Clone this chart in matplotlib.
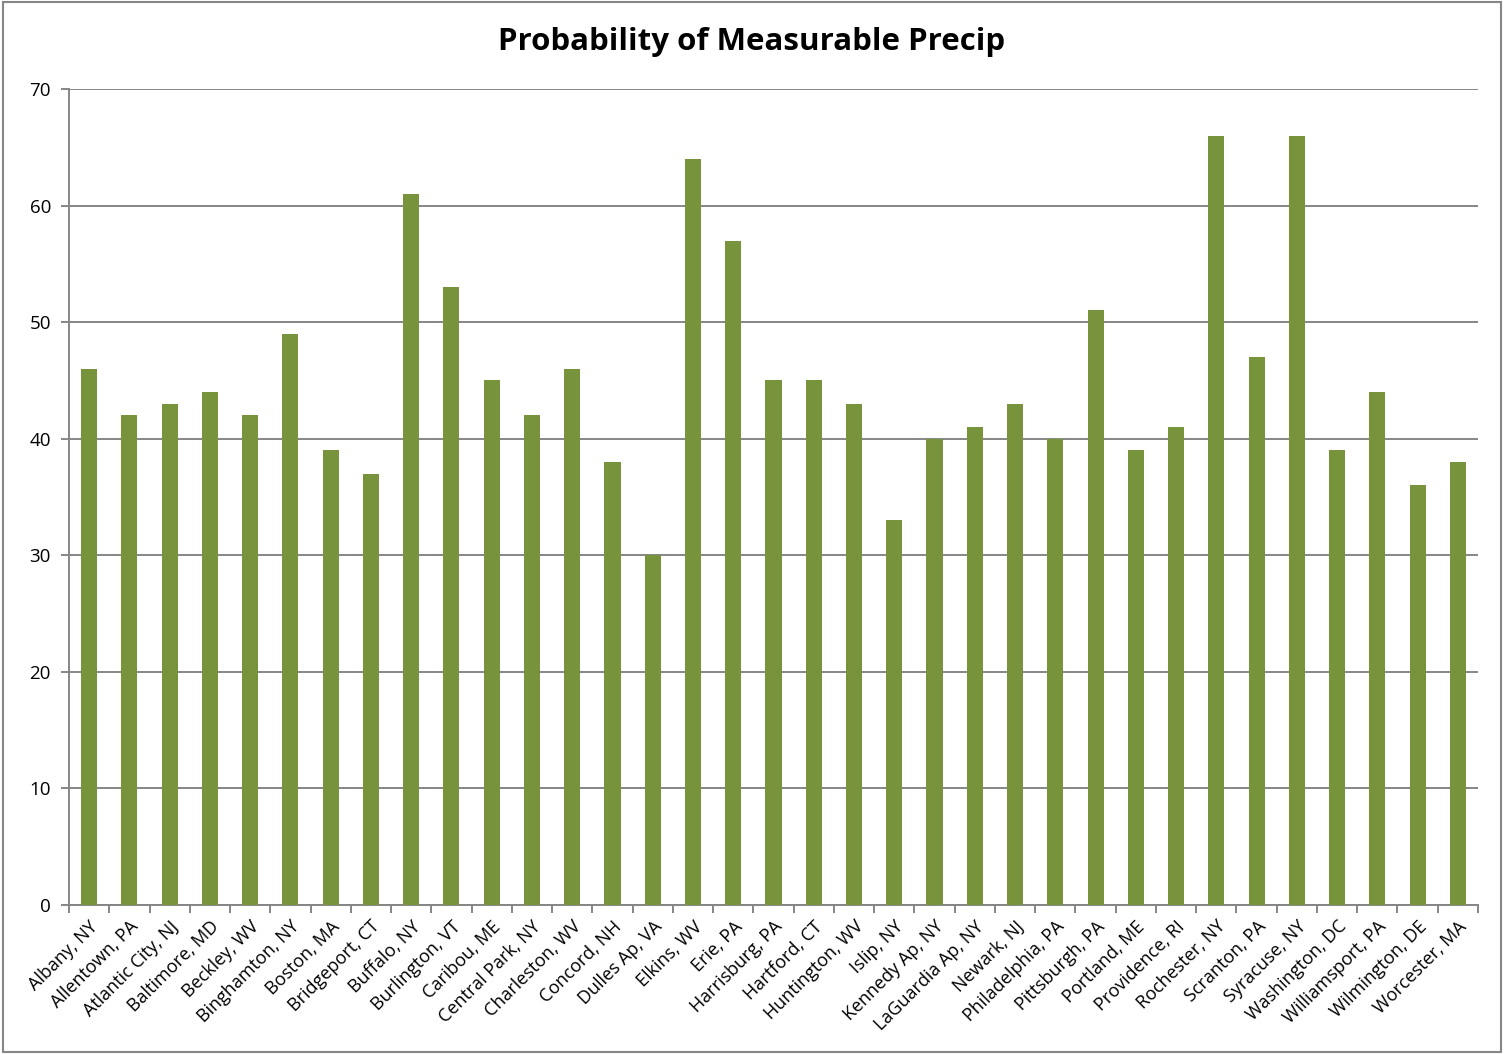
import numpy as np
import matplotlib.pyplot as plt
from matplotlib.patches import Rectangle

cities = ['Albany, NY', 'Allentown, PA', 'Atlantic City, NJ', 'Baltimore, MD',
          'Beckley, WV', 'Binghamton, NY', 'Boston, MA', 'Bridgeport, CT',
          'Buffalo, NY', 'Burlington, VT', 'Caribou, ME', 'Central Park, NY',
          'Charleston, WV', 'Concord, NH', 'Dulles Ap, VA', 'Elkins, WV',
          'Erie, PA', 'Harrisburg, PA', 'Hartford, CT', 'Huntington, WV',
          'Islip, NY', 'Kennedy Ap, NY', 'LaGuardia Ap, NY', 'Newark, NJ',
          'Philadelphia, PA', 'Pittsburgh, PA', 'Portland, ME', 'Providence, RI',
          'Rochester, NY', 'Scranton, PA', 'Syracuse, NY', 'Washington, DC',
          'Williamsport, PA', 'Wilmington, DE', 'Worcester, MA']
prob = [46, 42, 43, 44, 42, 49, 39, 37, 61, 53, 45, 42, 46, 38, 30, 64, 57,
        45, 45, 43, 33, 40, 41, 43, 40, 51, 39, 41, 66, 47, 66, 39, 44, 36, 38]

plt.rcParams['font.family'] = ['Open Sans', 'DejaVu Sans']

fig = plt.figure(figsize=(15.04, 10.54), dpi=100)
ax = fig.add_axes([69 / 1504, 1 - 905 / 1054, (1478 - 69) / 1504, (905 - 89) / 1054])

x = np.arange(len(cities))
ax.bar(x, prob, width=0.4, color='#77933C', zorder=3)

ax.set_xlim(-0.5, len(cities) - 0.5)
ax.set_ylim(0, 70)
ax.set_yticks(range(0, 71, 10))
ax.yaxis.grid(True, color='#868686', linewidth=1.4, zorder=0)

ax.set_xticks(x)
ax.set_xticklabels(cities, rotation=45, ha='right', rotation_mode='anchor', fontsize=13)
ax.tick_params(axis='x', length=0, pad=9)
ax.set_xticks(np.arange(-0.5, len(cities)), minor=True)
ax.tick_params(axis='x', which='minor', length=6, width=1.4, color='#868686')
ax.tick_params(axis='y', length=6, width=1.4, color='#868686', labelsize=13.5, pad=7)

for s in ['top', 'right']:
    ax.spines[s].set_visible(False)
for s in ['left', 'bottom']:
    ax.spines[s].set_color('#868686')
    ax.spines[s].set_linewidth(1.4)

fig.text(0.5, 1 - 42 / 1054, 'Probability of Measurable Precip', ha='center', va='center',
         fontsize=22.5, fontweight='bold')

fig.patches.append(Rectangle((0.002, 0.002), 0.996, 0.996, transform=fig.transFigure,
                             fill=False, edgecolor='#868686', linewidth=1.5))

fig.savefig('out.png', dpi=100)
